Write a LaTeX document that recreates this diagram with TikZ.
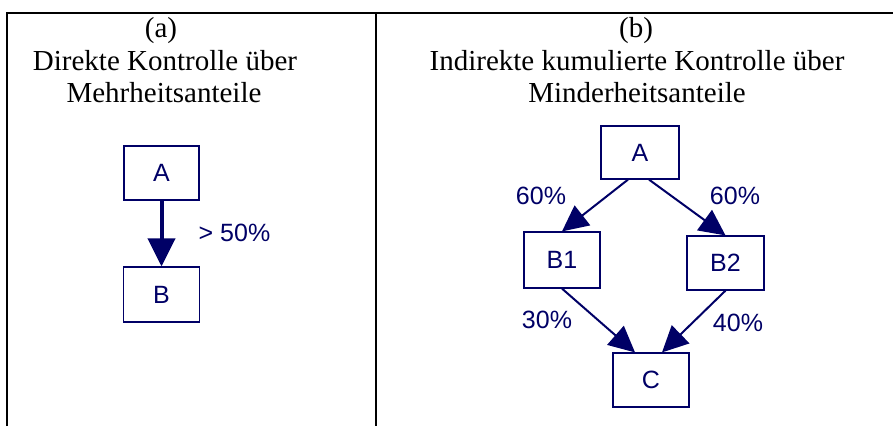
\documentclass[tikz,border=0pt]{standalone}
\usepackage{fontspec}
\setmainfont{Liberation Serif}
\newfontfamily\diagfont{Liberation Sans}
\usetikzlibrary{arrows.meta}
\definecolor{dnavy}{RGB}{0,0,102}
\begin{document}
\begin{tikzpicture}[x=1pt,y=-1pt,
  frame/.style={draw=black,line width=2pt},
  title/.style={anchor=base,inner sep=0pt,font=\fontsize{29}{33}\selectfont},
  box/.style={draw=dnavy,line width=1.2pt,inner sep=0pt,text=dnavy,
    font=\diagfont\fontsize{25}{28}\selectfont,minimum width=76pt,minimum height=54pt},
  lbl/.style={inner sep=0pt,text=dnavy,font=\diagfont\fontsize{25}{28}\selectfont},
  thickarr/.style={draw=dnavy,line width=4pt,-{Triangle[length=28pt,width=27pt]}},
  thinarr/.style={draw=dnavy,line width=2pt,-{Triangle[length=26pt,width=25pt]}}]
\useasboundingbox (0,0) rectangle (893,426);
% frame
\coordinate (tl) at (7,13);
\coordinate (tr) at (893,13);
\coordinate (bl) at (7,426);
\coordinate (tm) at (376,13);
\coordinate (bm) at (376,426);
\draw[frame] (bl) -- (tl) -- (tr);
\draw[frame] (tm) -- (bm);
% titles
\node[title] (ta1) at (161,37) {(a)};
\node[title] (ta2) at (165,70) {Direkte Kontrolle über};
\node[title] (ta3) at (164,102) {Mehrheitsanteile};
\node[title] (tb1) at (636,37) {(b)};
\node[title] (tb2) at (637,70) {Indirekte kumulierte Kontrolle über};
\node[title] (tb3) at (637,102) {Minderheitsanteile};
% diagram (a)
\node[box,minimum width=75pt] (aA) at (161.5,173) {A};
\node[box,minimum height=55pt] (aB) at (161.5,294.5) {B};
\draw[thickarr] (aA.south) -- (aB.north);
\node[lbl] (l50) at (234.5,233) {> 50\%};
% diagram (b)
\node[box,minimum width=78pt,minimum height=53pt] (bA) at (640,152.5) {A};
\node[box,minimum height=56pt] (bB1) at (562,260) {B1};
\node[box,minimum width=77pt] (bB2) at (725.5,263) {B2};
\node[box] (bC) at (651,380) {C};
\draw[thinarr] ([xshift=-12pt]bA.south) -- (bB1.north);
\draw[thinarr] ([xshift=9pt]bA.south) -- (bB2.north);
\draw[thinarr] (bB1.south) -- ([xshift=-16pt]bC.north);
\draw[thinarr] (bB2.south) -- ([xshift=11pt]bC.north);
\node[lbl] (l60a) at (541,196) {60\%};
\node[lbl] (l60b) at (735,196) {60\%};
\node[lbl] (l30) at (547,320) {30\%};
\node[lbl] (l40) at (738,323) {40\%};
\end{tikzpicture}
\end{document}
